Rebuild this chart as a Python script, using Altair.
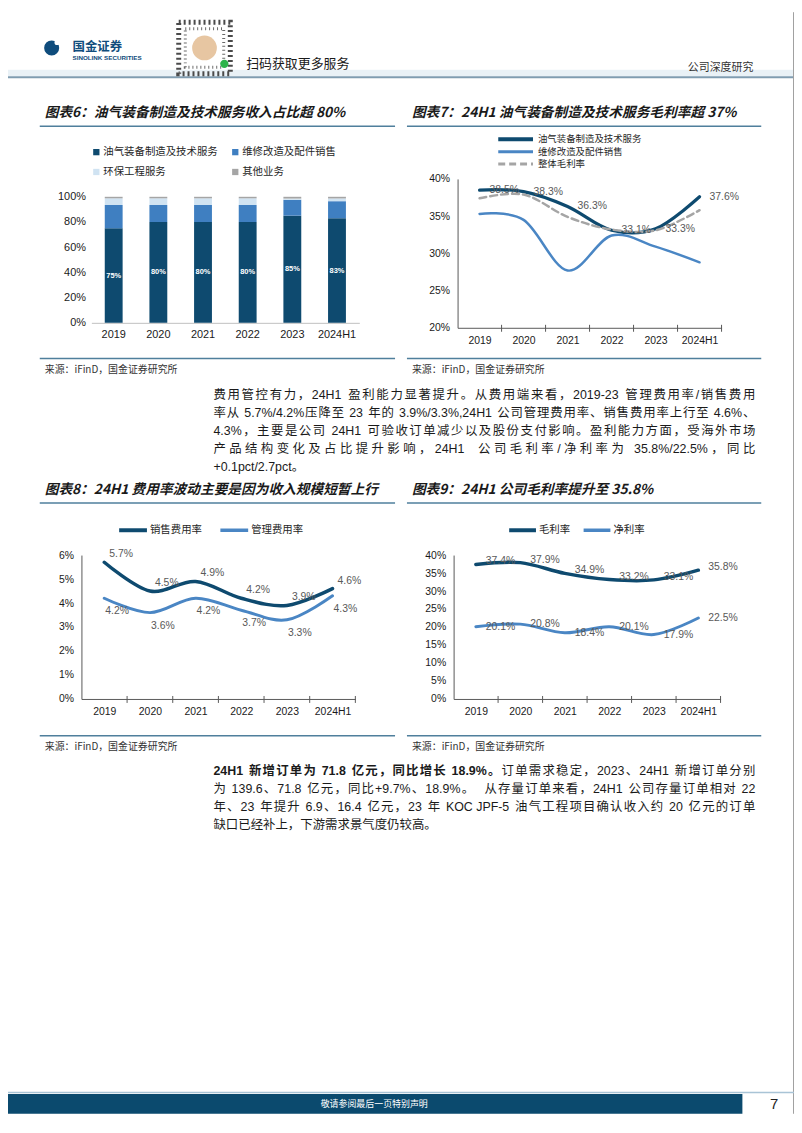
import re
import altair as alt
import pandas as pd

# ------------------------------------------------------------------ data
years = ["2019", "2020", "2021", "2022", "2023", "2024H1"]

rev_segments = ["油气装备制造及技术服务", "维修改造及配件销售", "环保工程服务", "其他业务"]
rev_main = [75, 80, 80, 80, 85, 83]
rev_repair = [18.5, 13.5, 13.5, 13.5, 12.6, 13.5]
rev_env = [5.3, 5.3, 5.3, 5.3, 1.0, 2.2]
rev_other = [1.2, 1.2, 1.2, 1.2, 1.4, 1.3]
rev_ticks = [0, 20, 40, 60, 80, 100]

gm_series = ["油气装备制造及技术服务", "维修改造及配件销售", "整体毛利率"]
gm_equip = [38.5, 38.3, 36.3, 33.1, 33.3, 37.6]
gm_repair = [35.3, 34.5, 27.7, 32.4, 30.9, 28.8]
gm_total = [37.4, 37.9, 34.9, 33.2, 33.1, 35.8]
gm_ticks = [20, 25, 30, 35, 40]

fee_series = ["销售费用率", "管理费用率"]
fee_sell = [5.7, 4.5, 4.9, 4.2, 3.9, 4.6]
fee_admin = [4.2, 3.6, 4.2, 3.7, 3.3, 4.3]
fee_ticks = [0, 1, 2, 3, 4, 5, 6]

pm_series = ["毛利率", "净利率"]
pm_gross = [37.4, 37.9, 34.9, 33.2, 33.1, 35.8]
pm_net = [20.1, 20.8, 18.4, 20.1, 17.9, 22.5]
pm_ticks = [0, 5, 10, 15, 20, 25, 30, 35, 40]

title6 = "图表6：油气装备制造及技术服务收入占比超 80%"
title7 = "图表7：24H1 油气装备制造及技术服务毛利率超 37%"
title8 = "图表8：24H1 费用率波动主要是因为收入规模短暂上行"
title9 = "图表9：24H1 公司毛利率提升至 35.8%"
source = "来源：iFinD，国金证券研究所"

para1 = [
    "费用管控有力，24H1 盈利能力显著提升。从费用端来看，2019-23 管理费用率/销售费用",
    "率从 5.7%/4.2%压降至 23 年的 3.9%/3.3%,24H1 公司管理费用率、销售费用率上行至 4.6%、",
    "4.3%，主要是公司 24H1 可验收订单减少以及股份支付影响。盈利能力方面，受海外市场",
    "产品结构变化及占比提升影响，24H1  公司毛利率/净利率为 35.8%/22.5%，同比",
    "+0.1pct/2.7pct。",
]
para2_bold = "24H1 新增订单为 71.8 亿元，同比增长 18.9%。"
para2 = [
    "订单需求稳定，2023、24H1 新增订单分别",
    "为 139.6、71.8 亿元，同比+9.7%、18.9%。 从存量订单来看，24H1 公司存量订单相对 22",
    "年、23 年提升 6.9、16.4 亿元，23 年 KOC JPF-5 油气工程项目确认收入约 20 亿元的订单",
    "缺口已经补上，下游需求景气度仍较高。",
]

# ------------------------------------------------------------------ style
CJK = "Noto Sans CJK SC"
SANS = "Liberation Sans"
NAVY = "#0e4a6f"
MIDB = "#3f7fc1"
LINEB = "#4a86c4"
LIGHTB = "#d0e3f2"
GRAY = "#a5a5a5"
AXC = "#595959"
LBL = "#595959"
TXT = "#1a1a1a"
RULE = "#4f7f9c"
W_PAGE, H_PAGE = 792, 1110
OX = OY = 8          # page margin: page coords -> chart coords
ONE = pd.DataFrame({"k": [0]})


def txt(x, y, s, size=12, color=TXT, font=CJK, weight="normal", style="normal",
        align="left", baseline="middle"):
    return alt.Chart(ONE).mark_text(
        fontSize=size, color=color, font=font, fontWeight=weight, fontStyle=style,
        align=align, baseline=baseline
    ).encode(x=alt.value(x - OX), y=alt.value(y - OY), text=alt.value(s))


def hline(x1, x2, y, color, width=1.0, dash=None):
    kw = dict(color=color, strokeWidth=width)
    if dash:
        kw["strokeDash"] = dash
    return alt.Chart(ONE).mark_rule(**kw).encode(
        x=alt.value(x1 - OX), x2=alt.value(x2 - OX), y=alt.value(y - OY))


def vline(x, y1, y2, color, width=1.0):
    return alt.Chart(ONE).mark_rule(color=color, strokeWidth=width).encode(
        x=alt.value(x - OX), y=alt.value(y1 - OY), y2=alt.value(y2 - OY))


def box(x1, y1, x2, y2, fill):
    return alt.Chart(ONE).mark_rect(color=fill).encode(
        x=alt.value(x1 - OX), x2=alt.value(x2 - OX),
        y=alt.value(y1 - OY), y2=alt.value(y2 - OY))


def dot(x, y, size, color, shape="circle", filled=True, width=1.0, dash=None):
    kw = dict(shape=shape, size=size, filled=filled, opacity=1)
    if filled:
        kw["color"] = color
        kw["strokeWidth"] = 0
    else:
        kw["stroke"] = color
        kw["strokeWidth"] = width
        if dash:
            kw["strokeDash"] = dash
    return alt.Chart(ONE).mark_point(**kw).encode(
        x=alt.value(x - OX), y=alt.value(y - OY))


def xaxis(axis_y, **kw):
    return alt.Axis(orient="bottom", offset=(axis_y - OY) - H_PAGE, title=None,
                    labelAngle=0, ticks=False, labelFont=SANS, labelColor=TXT, **kw)


def yaxis(axis_x, **kw):
    return alt.Axis(orient="left", offset=-(axis_x - OX), title=None, ticks=False,
                    grid=False, labelFont=SANS, labelColor=TXT,
                    labelExpr="datum.value + '%'", **kw)


# ------------------------------------------------------------------ justified body text
ARIAL = {" ": 0.278, "%": 0.889, "+": 0.584, ",": 0.278, "-": 0.333, ".": 0.278,
         "/": 0.278, "C": 0.722, "F": 0.611, "H": 0.722, "J": 0.5, "K": 0.667,
         "O": 0.778, "P": 0.667, "c": 0.5, "p": 0.556, "t": 0.278}
BODY = 12.5
LEFT, RIGHT = 215, 761


def tokens(s, bold):
    out = []
    for m in re.finditer(r"[\x20-\x7e]+|.", s):
        t = m.group()
        if ord(t[0]) < 128:
            lead = len(t) - len(t.lstrip(" "))
            trail = len(t) - len(t.rstrip(" "))
            core = t.strip(" ")
            if lead:
                out.append(("", lead * ARIAL[" "] * BODY, True, bold))
            if core:
                out.append((core, sum(ARIAL.get(c, 0.556) for c in core) * BODY, True, bold))
            if trail:
                out.append(("", trail * ARIAL[" "] * BODY, True, bold))
        else:
            out.append((t, BODY, False, bold))
    return out


body_rows = []


def set_line(y, parts, justify):
    toks = []
    for s, bold in parts:
        toks += tokens(s, bold)
    nat = sum(t[1] for t in toks)
    extra = (RIGHT - LEFT - nat) / (len(toks) - 1) if justify and len(toks) > 1 else 0.0
    x = LEFT
    for t, w, latin, bold in toks:
        if t:
            body_rows.append({"x": x - OX, "y": y - OY, "t": t,
                              "latin": latin, "bold": bold})
        x += w + extra


for k, line in enumerate(para1):
    set_line(394 + 18 * k, [(line, False)], k < len(para1) - 1)
set_line(773, [(para2_bold, True), (para2[0], False)], True)
for k, line in enumerate(para2[1:]):
    set_line(791 + 18 * k, [(line, False)], k < len(para2) - 2)
body_df = pd.DataFrame(body_rows)

body_layers = []
for latin in (False, True):
    for bold in (False, True):
        body_layers.append(
            alt.Chart(body_df).transform_filter(
                (alt.datum.latin == latin) & (alt.datum.bold == bold)
            ).mark_text(
                align="left", baseline="middle", fontSize=BODY, color=TXT,
                font=SANS if latin else CJK, fontWeight="bold" if bold else "normal"
            ).encode(
                x=alt.X("x:Q", scale=None, axis=None),
                y=alt.Y("y:Q", scale=None, axis=None),
                text="t:N",
            )
        )

# ------------------------------------------------------------------ chart 6 (stacked bars)
rows6 = []
for i, yr in enumerate(years):
    for j, arr in enumerate([rev_main, rev_repair, rev_env, rev_other]):
        rows6.append({"year": yr, "seg": rev_segments[j], "val": arr[i], "ord": j})
df6 = pd.DataFrame(rows6)
x6 = alt.X("year:N", sort=years,
           scale=alt.Scale(range=[92 - OX, 362 - OX], paddingInner=0.6, paddingOuter=0.3),
           axis=xaxis(321, domainColor="#bfbfbf", labelFontSize=11, labelPadding=6))
y6s = alt.Scale(domain=[0, 100], range=[321 - OY, 194 - OY], nice=False)
y6a = yaxis(92, values=rev_ticks, domain=False, labelFontSize=11, labelPadding=6)
bars6 = alt.Chart(df6).mark_bar().encode(
    x=x6,
    y=alt.Y("val:Q", stack="zero", scale=y6s, axis=y6a),
    color=alt.Color("seg:N", scale=alt.Scale(domain=rev_segments,
                                             range=[NAVY, MIDB, LIGHTB, GRAY]), legend=None),
    order=alt.Order("ord:Q", sort="ascending"),
)
lab6 = alt.Chart(pd.DataFrame({"year": years, "main": rev_main})).transform_calculate(
    mid="datum.main / 2", lab="format(datum.main, '.0f') + '%'"
).mark_text(color="white", fontWeight="bold", fontSize=7.5, font=SANS).encode(
    x=x6, y=alt.Y("mid:Q", scale=y6s, axis=y6a), text="lab:N")
panel6 = alt.layer(bars6, lab6)


# ------------------------------------------------------------------ line panels
def series_df(names, arrays):
    return pd.DataFrame([{"year": yr, "series": n, "v": v}
                         for n, arr in zip(names, arrays) for yr, v in zip(years, arr)])


def line_panel(df, x0, x1, yb, yt, ydom, yticks, styles, labels):
    xenc = alt.X("year:N", sort=years,
                 scale=alt.Scale(type="point", padding=0.5, range=[x0 - OX, x1 - OX]),
                 axis=xaxis(yb, domainColor=AXC, labelPadding=8, labelFontSize=10.5))
    yenc = alt.Y("v:Q", scale=alt.Scale(domain=ydom, nice=False, zero=False,
                                        range=[yb - OY, yt - OY]),
                 axis=yaxis(x0, values=yticks, domainColor=AXC, labelPadding=8,
                            labelFontSize=10.5))
    step = (x1 - x0) / 6.0
    layers = [alt.Chart(pd.DataFrame({"year": years})).mark_rule(
        color=AXC, strokeWidth=1, xOffset=step / 2).encode(
        x=xenc, y=alt.value(yb - OY - 3), y2=alt.value(yb - OY + 4))]
    for name, color, width, dash in styles:
        kw = dict(color=color, strokeWidth=width, interpolate="cardinal", strokeCap="round")
        if dash:
            kw["strokeDash"] = dash
        layers.append(alt.Chart(df).transform_filter(alt.datum.series == name)
                      .mark_line(**kw).encode(x=xenc, y=yenc))
    for name, dx, dy, align in labels:
        layers.append(alt.Chart(df).transform_filter(alt.datum.series == name)
                      .transform_calculate(lab="format(datum.v, '.1f') + '%'")
                      .mark_text(align=align, dx=dx, dy=dy, baseline="middle",
                                 fontSize=10.5, color=LBL, font=SANS)
                      .encode(x=xenc, y=yenc, text="lab:N"))
    return alt.layer(*layers)


panel7 = line_panel(series_df(gm_series, [gm_equip, gm_repair, gm_total]),
                    461, 727, 326, 176, [20, 40], gm_ticks,
                    [(gm_series[0], NAVY, 3.2, None), (gm_series[1], LINEB, 2.5, None),
                     (gm_series[2], GRAY, 2.5, [7, 4])],
                    [(gm_series[0], 10, 0, "left")])
panel8 = line_panel(series_df(fee_series, [fee_sell, fee_admin]),
                    82, 358, 700, 555, [0, 6], fee_ticks,
                    [(fee_series[0], NAVY, 3.5, None), (fee_series[1], LINEB, 3, None)],
                    [(fee_series[0], 17, -8, "center"), (fee_series[1], 13, 13, "center")])
panel9 = line_panel(series_df(pm_series, [pm_gross, pm_net]),
                    457, 726, 700, 555, [0, 40], pm_ticks,
                    [(pm_series[0], NAVY, 3.5, None), (pm_series[1], LINEB, 3, None)],
                    [(pm_series[0], 10, -3, "left"), (pm_series[1], 10, 0, "left")])

# ------------------------------------------------------------------ page furniture
LEG = 10.5
LEG7 = 9.5
deco = [
    # header
    box(8, 66, 800, 72.5, "#e9f1f6"),
    hline(8, 800, 73.5, "#7f9cb0", 2),
    vline(799.5, 8, 1118, "#a0a0a0", 1),
    dot(52, 44, 230, "#0f4c7c"),
    dot(57.5, 38.5, 28, "white"),
    txt(73, 43.5, "国金证券", size=12.5, weight="bold", color="#0f4c7c"),
    txt(73, 54.5, "SINOLINK SECURITIES", size=6.3, weight="bold", color="#0f4c7c", font=SANS),
    dot(206, 44, 2700, "#4a4a4a", shape="square", filled=False, width=5, dash=[2, 3]),
    dot(206, 44, 1500, "#6a6a6a", shape="square", filled=False, width=3, dash=[1, 3]),
    dot(206, 44, 620, "#e7c6a2"),
    dot(226, 60, 70, "#2db34a"),
    txt(248, 60, "扫码获取更多服务", size=13),
    txt(759, 64, "公司深度研究", size=11, color="#333333", align="right"),
    # charts 6/7 titles + legends
    txt(45, 110, title6, size=13.8, weight="bold", style="italic"),
    txt(415, 110, title7, size=13.8, weight="bold", style="italic"),
    hline(40, 398, 123, RULE, 1.5),
    hline(410, 767, 123, RULE, 1.5),
    dot(97, 149, 40, NAVY, shape="square"),
    txt(104, 149, rev_segments[0], size=LEG, color="#262626"),
    dot(237, 149, 40, MIDB, shape="square"),
    txt(244, 149, rev_segments[1], size=LEG, color="#262626"),
    dot(97, 169, 40, LIGHTB, shape="square"),
    txt(104, 169, rev_segments[2], size=LEG, color="#262626"),
    dot(237, 169, 40, GRAY, shape="square"),
    txt(244, 169, rev_segments[3], size=LEG, color="#262626"),
    hline(502, 537, 136, NAVY, 4),
    txt(542, 136, gm_series[0], size=LEG7, color="#262626"),
    hline(502, 537, 148.5, LINEB, 3),
    txt(542, 148.5, gm_series[1], size=LEG7, color="#262626"),
    hline(502, 537, 161, GRAY, 3, [7, 4]),
    txt(542, 161, gm_series[2], size=LEG7, color="#262626"),
    # sources 6/7
    hline(40, 398, 357, RULE, 1.5),
    hline(410, 767, 357, RULE, 1.5),
    txt(45, 369, source, size=10, color="#333333"),
    txt(415, 369, source, size=10, color="#333333"),
    # charts 8/9 titles + legends
    txt(45, 489.5, title8, size=13.8, weight="bold", style="italic"),
    txt(415, 489.5, title9, size=13.8, weight="bold", style="italic"),
    hline(40, 398, 502.5, RULE, 1.5),
    hline(410, 767, 502.5, RULE, 1.5),
    hline(120, 148, 530, NAVY, 4),
    txt(151, 530, fee_series[0], size=LEG, color="#262626"),
    hline(222, 250, 530, LINEB, 3.5),
    txt(253, 530, fee_series[1], size=LEG, color="#262626"),
    hline(513, 540, 530, NAVY, 4),
    txt(543, 530, pm_series[0], size=LEG, color="#262626"),
    hline(588, 615, 530, LINEB, 3.5),
    txt(618, 530, pm_series[1], size=LEG, color="#262626"),
    # sources 8/9
    hline(40, 398, 737, RULE, 1.5),
    hline(410, 767, 737, RULE, 1.5),
    txt(45, 748.5, source, size=10, color="#333333"),
    txt(415, 748.5, source, size=10, color="#333333"),
    # footer
    hline(8, 800, 1096.5, "#a9c4d6", 1.5),
    box(8, 1098, 748, 1118, "#0b4a6e"),
    txt(377, 1108, "敬请参阅最后一页特别声明", size=9, color="white", align="center"),
    txt(780, 1108, "7", size=15, color="#222222", font=SANS, align="center"),
]

chart = alt.layer(*deco, *body_layers, panel6, panel7, panel8, panel9).resolve_scale(
    x="independent", y="independent"
).resolve_axis(
    x="independent", y="independent"
).properties(
    width=W_PAGE, height=H_PAGE, padding=0, background="white",
    autosize=alt.AutoSizeParams(type="none"),
).configure_view(stroke=None)

chart.save("out.html", embed_options={"renderer": "svg", "actions": False})
